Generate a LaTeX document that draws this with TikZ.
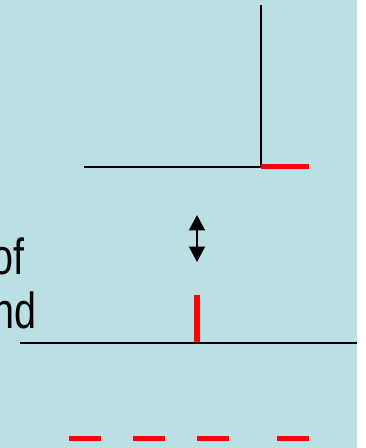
\documentclass[tikz,border=0pt]{standalone}
\usepackage{fontspec}
\setmainfont{Liberation Sans}
\usetikzlibrary{arrows.meta}
\definecolor{slideblue}{RGB}{187,224,227}
\definecolor{markred}{RGB}{255,0,0}

\begin{document}
\begin{tikzpicture}[x=0.75pt,y=-0.75pt,line cap=butt,
  every node/.style={inner sep=0pt},
  blackline/.style={line width=1.5pt,draw=black},
  redbar/.style={line width=3.9pt,draw=markred},
  bigtext/.style={anchor=base east,font=\fontsize{38}{46}\selectfont}]
  \useasboundingbox (0,0) rectangle (366,448);
  \clip (0,0) rectangle (366,448);
  % 背景
  \fill[slideblue] (0,0) rectangle (357,448);
  % 文字
  \node[bigtext] (txtof) at (25,274) {\scalebox{0.78}[1]{of}};
  \node[bigtext] (txtnd) at (37,328) {\scalebox{0.78}[1]{nd}};
  % 上面的直角
  \draw[blackline] (261,5) -- (261,167) -- (84,167);
  \draw[redbar] (261,166.5) -- (309,166.5);
  % 双向箭头
  \coordinate (arrtop) at (197,215);
  \coordinate (arrbot) at (197,262);
  \draw[line width=1.5pt,{Triangle[width=12pt,length=11.6pt]}-{Triangle[width=12pt,length=11.6pt]}]
    (arrtop) -- (arrbot);
  % 下面的线
  \draw[redbar] (197,295) -- (197,342);
  \draw[blackline] (20,342.7) -- (357,342.7);
  % 虚线
  \foreach \xs in {69,133,197,277} {
    \draw[redbar] (\xs,438.7) -- ({\xs+32},438.7);
  }
\end{tikzpicture}
\end{document}
